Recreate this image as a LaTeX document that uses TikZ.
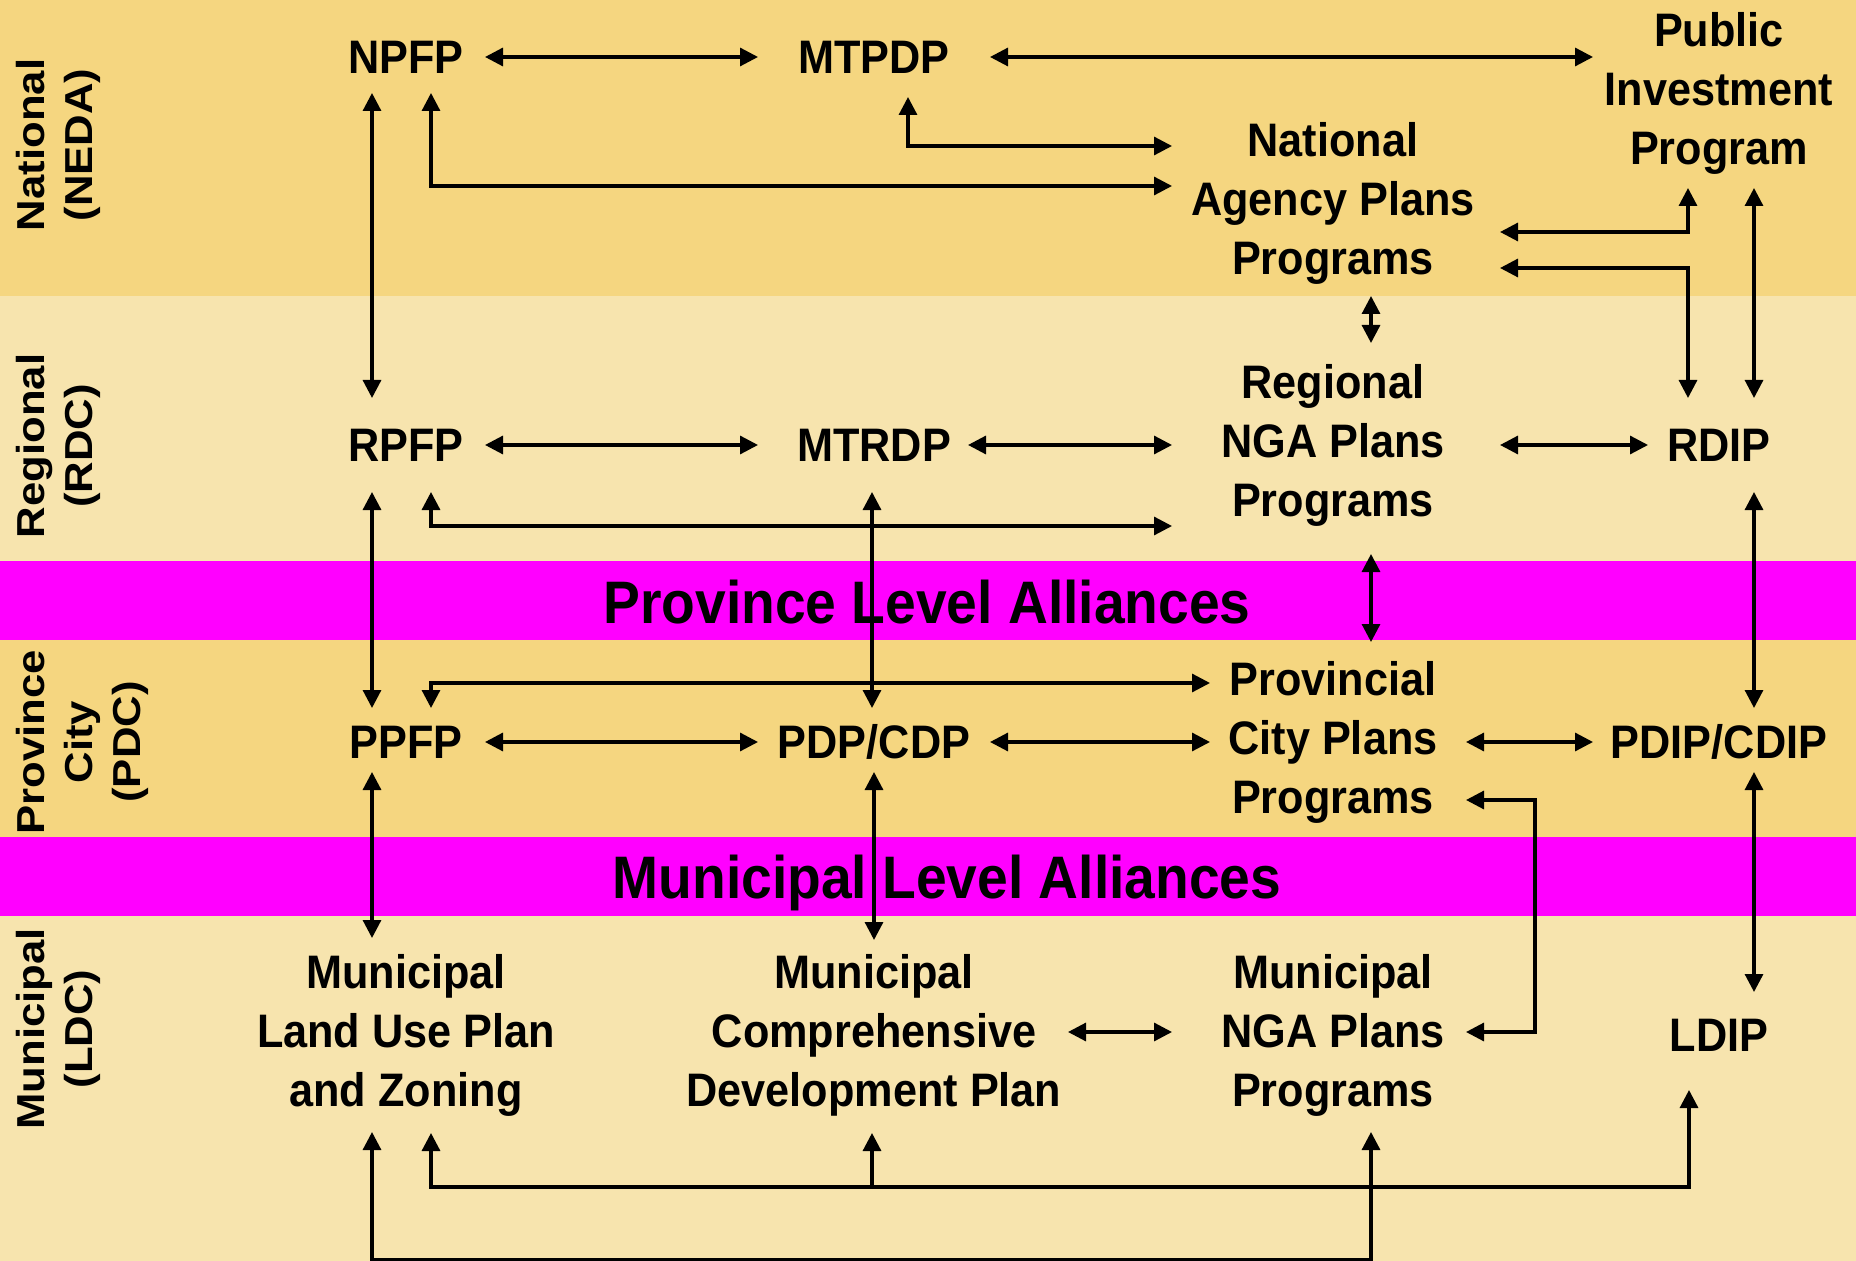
\documentclass[tikz,border=0pt]{standalone}
\usepackage{fontspec}
\usetikzlibrary{arrows.meta,calc}
\newfontfamily\chartfont{Liberation Sans}[FakeStretch=0.92]
\newfontfamily\sidefont{Liberation Sans}[FakeStretch=1.12]
\definecolor{deepband}{RGB}{245,214,128}
\definecolor{paleband}{RGB}{247,228,174}
\definecolor{allyband}{RGB}{255,0,255}
\tikzset{>={Triangle[length=9pt,width=9pt]}}
\tikzset{
  plan/.style={align=center, inner sep=0pt, font=\chartfont\bfseries\fontsize{23.5}{29.5}\selectfont},
  ally/.style={anchor=base, inner sep=0pt, font=\chartfont\bfseries\fontsize{30}{36}\selectfont},
  tier/.style={rotate=90, align=center, inner sep=0pt, font=\sidefont\bfseries\fontsize{19.5}{24}\selectfont},
  link/.style={<->, line width=1.6pt},
}

\begin{document}
\begin{tikzpicture}[x=0.5pt,y=-0.5pt]
    \useasboundingbox (0,0) rectangle (1856,1261);
    \fill[deepband] (0,0) rectangle (1856,296);
    \fill[paleband] (0,296) rectangle (1856,561);
    \fill[allyband] (0,561) rectangle (1856,640);
    \fill[deepband] (0,640) rectangle (1856,837);
    \fill[allyband] (0,837) rectangle (1856,916);
    \fill[paleband] (0,916) rectangle (1856,1261);

    \node[tier] (natl) at (58,145) {National\\(NEDA)};
    \node[tier] (regl) at (58,446) {Regional\\(RDC)};
    \node[tier] (prov) at (82,742) {Province\\City\\(PDC)};
    \node[tier] (muni) at (58,1029) {Municipal\\(LDC)};
    \node[ally] (pla) at (927,623) {Province Level Alliances};
    \node[ally] (mla) at (947,898) {Municipal Level Alliances};

    \node[plan] (npfp) at (406,57) {NPFP};
    \node[plan] (mtpdp) at (874,57) {MTPDP};
    \node[plan] (pip) at (1719,93) {Public\\Investment\\Program};
    \node[plan] (nap) at (1333,203) {National\\Agency Plans\\Programs};
    \node[plan] (rpfp) at (406,445) {RPFP};
    \node[plan] (mtrdp) at (874,445) {MTRDP};
    \node[plan] (rnga) at (1333,445) {Regional\\NGA Plans\\Programs};
    \node[plan] (rdip) at (1719,445) {RDIP};
    \node[plan] (ppfp) at (406,742) {PPFP};
    \node[plan] (pdp) at (874,742) {PDP/CDP};
    \node[plan] (pcp) at (1333,742) {Provincial\\City Plans\\Programs};
    \node[plan] (pdip) at (1719,742) {PDIP/CDIP};
    \node[plan] (mlup) at (406,1035) {Municipal\\Land Use Plan\\and Zoning};
    \node[plan] (mcdp) at (874,1035) {Municipal\\Comprehensive\\Development Plan};
    \node[plan] (mnga) at (1333,1035) {Municipal\\NGA Plans\\Programs};
    \node[plan] (ldip) at (1719,1035) {LDIP};

    % national
    \draw[link] ($(npfp.center)+(79,0)$) -- ($(mtpdp.center)+(-116,0)$);
    \draw[link] ($(mtpdp.center)+(116,0)$) -- ($(pip.center)+(-126,-36)$);
    \draw[link] ($(npfp.center)+(-34,36)$) -- ($(rpfp.center)+(-34,-47)$);
    \draw[link] ($(npfp.center)+(25,36)$) |- ($(nap.center)+(-161,-17)$);
    \draw[link] ($(mtpdp.center)+(34,40)$) |- ($(nap.center)+(-161,-57)$);
    \draw[link] ($(nap.center)+(167,29)$) -| ($(pip.center)+(-31,95)$);
    \draw[link] ($(nap.center)+(167,65)$) -| ($(rdip.center)+(-31,-47)$);
    \draw[link] ($(pip.center)+(35,95)$) -- ($(rdip.center)+(35,-47)$);
    \draw[link] ($(nap.center)+(38,93)$) -- ($(rnga.center)+(38,-102)$);

    % regional
    \draw[link] ($(rpfp.center)+(79,0)$) -- ($(mtrdp.center)+(-116,0)$);
    \draw[link] ($(mtrdp.center)+(94,0)$) -- ($(rnga.center)+(-161,0)$);
    \draw[link] ($(rnga.center)+(167,0)$) -- ($(rdip.center)+(-71,0)$);
    \draw[link] ($(rpfp.center)+(25,47)$) |- ($(rnga.center)+(-161,81)$);
    \draw[link] ($(rpfp.center)+(-34,47)$) -- ($(ppfp.center)+(-34,-34)$);
    \draw[link] ($(mtrdp.center)+(-2,47)$) -- ($(pdp.center)+(-2,-34)$);
    \draw[link] ($(rnga.center)+(38,109)$) -- ($(pcp.center)+(38,-100)$);
    \draw[link] ($(rdip.center)+(35,47)$) -- ($(pdip.center)+(35,-34)$);

    % province
    \draw[link] ($(ppfp.center)+(25,-34)$) |- ($(pcp.center)+(-123,-59)$);
    \draw[link] ($(ppfp.center)+(79,0)$) -- ($(pdp.center)+(-116,0)$);
    \draw[link] ($(pdp.center)+(116,0)$) -- ($(pcp.center)+(-123,0)$);
    \draw[link] ($(pcp.center)+(133,0)$) -- ($(pdip.center)+(-126,0)$);
    \draw[link] ($(ppfp.center)+(-34,30)$) -- ($(mlup.center)+(-34,-97)$);
    \draw[link] ($(pdp.center)+(0,30)$) -- ($(mcdp.center)+(0,-95)$);
    \draw[link] ($(pdip.center)+(35,30)$) -- ($(ldip.center)+(35,-43)$);
    \draw[link] ($(pcp.center)+(133,58)$) -- ++(69,0) |- ($(mnga.center)+(133,-3)$);

    % municipal
    \draw[link] ($(mcdp.center)+(194,-3)$) -- ($(mnga.center)+(-161,-3)$);
    \draw[link] ($(mlup.center)+(25,98)$) -- ++(0,54) coordinate (bus) -| ($(ldip.center)+(-30,55)$);
    \coordinate (tap) at ($(mcdp.center)+(-2,98)$);
    \draw[line width=1.6pt,<-] (tap) -- (tap |- bus);
    \draw[link] ($(mlup.center)+(-34,97)$) -- ++(0,128) -| ($(mnga.center)+(38,97)$);
\end{tikzpicture}
\end{document}
